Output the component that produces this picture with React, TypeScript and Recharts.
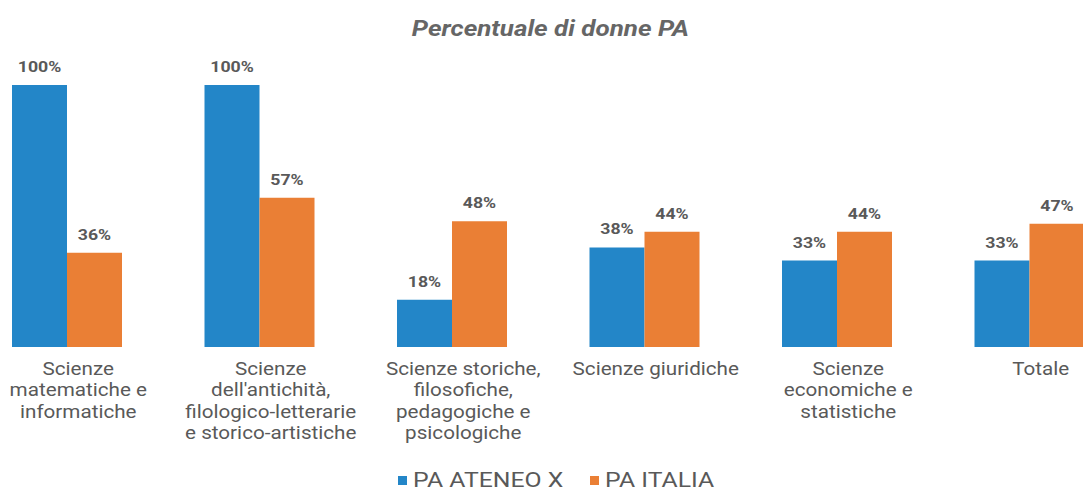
import React from "react";
import { BarChart, Bar, XAxis, YAxis, LabelList, Legend } from "recharts";

const categories = [
  ["Scienze", "matematiche e", "informatiche"],
  ["Scienze", "dell'antichità,", "filologico-letterarie", "e storico-artistiche"],
  ["Scienze storiche,", "filosofiche,", "pedagogiche e", "psicologiche"],
  ["Scienze giuridiche"],
  ["Scienze", "economiche e", "statistiche"],
  ["Totale"],
];
const ateneoValues = [100, 100, 18, 38, 33, 33];
const italiaValues = [36, 57, 48, 44, 44, 47];
const seriesNames = ["PA ATENEO X", "PA ITALIA"];

const BLUE = "#2386c8";
const ORANGE = "#ea7f35";
const TEXT = "#595959";
const FONT = "Roboto, sans-serif";
// the reference is a bit stretched sideways, so text is widened to match
const STRETCH = 1.18;
const SHIFT = -29;

const data = categories.map((lines, i) => ({
  name: lines.join(" "),
  ateneo: ateneoValues[i],
  italia: italiaValues[i],
}));

function CategoryTick(props: any) {
  const { x, y, index } = props;
  const lines = categories[index] ?? [];
  return (
    <g transform={`translate(${x + 11},${y + 20}) scale(${STRETCH},1)`}>
      <text x={0} y={0} textAnchor="middle" fill={TEXT} fontSize={17.5} fontFamily={FONT}>
        {lines.map((line: string, i: number) => (
          <tspan key={i} x={0} dy={i === 0 ? 0 : 21.5}>
            {line}
          </tspan>
        ))}
      </text>
    </g>
  );
}

function ValueLabel(props: any) {
  const { x, y, width, value } = props;
  const cx = Number(x) + Number(width) / 2;
  const by = Number(y) - 13;
  return (
    <g transform={`translate(${cx},${by}) scale(${STRETCH},1)`}>
      <text x={0} y={0} textAnchor="middle" fill={TEXT} fontSize={15} fontWeight={700} fontFamily={FONT}>
        {`${value}%`}
      </text>
    </g>
  );
}

function ChartLegend() {
  const items = [
    { label: seriesNames[0], color: BLUE, left: 398 - SHIFT },
    { label: seriesNames[1], color: ORANGE, left: 590 - SHIFT },
  ];
  return (
    <div style={{ position: "relative", height: 26 }}>
      {items.map((it) => (
        <div
          key={it.label}
          style={{ position: "absolute", left: it.left, top: 3, height: 24, display: "flex", alignItems: "center" }}
        >
          <span style={{ width: 9, height: 9, background: it.color, marginRight: 6, marginTop: 1 }} />
          <span
            style={{
              display: "inline-block",
              fontFamily: FONT,
              fontSize: 21,
              color: TEXT,
              lineHeight: "24px",
              whiteSpace: "nowrap",
              transform: `scaleX(${STRETCH})`,
              transformOrigin: "left center",
            }}
          >
            {it.label}
          </span>
        </div>
      ))}
    </div>
  );
}

export default function App() {
  return (
    <div
      style={{
        position: "absolute",
        left: 0,
        top: 0,
        width: 1083,
        height: 491,
        overflow: "hidden",
        background: "#fff",
      }}
    >
      <div
        style={{
          position: "absolute",
          top: 16,
          left: 0,
          width: 1100,
          textAlign: "center",
        }}
      >
        <span
          style={{
            display: "inline-block",
            fontFamily: FONT,
            fontSize: 22,
            fontWeight: 700,
            fontStyle: "italic",
            color: "#666",
            transform: `scaleX(${STRETCH})`,
          }}
        >
          Percentuale di donne PA
        </span>
      </div>
      <div style={{ position: "absolute", left: SHIFT, top: 0 }}>
        <BarChart
          width={1155}
          height={491}
          data={data}
          barGap={0}
          margin={{ top: 85, right: 0, bottom: 0, left: 0 }}
        >
          <XAxis
            dataKey="name"
            axisLine={false}
            tickLine={false}
            interval={0}
            height={118}
            tick={<CategoryTick />}
          />
          <YAxis hide domain={[0, 100]} />
          <Legend verticalAlign="bottom" content={<ChartLegend />} />
          <Bar dataKey="ateneo" name={seriesNames[0]} fill={BLUE} barSize={55} isAnimationActive={false}>
            <LabelList dataKey="ateneo" content={<ValueLabel />} />
          </Bar>
          <Bar dataKey="italia" name={seriesNames[1]} fill={ORANGE} barSize={55} isAnimationActive={false}>
            <LabelList dataKey="italia" content={<ValueLabel />} />
          </Bar>
        </BarChart>
      </div>
    </div>
  );
}
